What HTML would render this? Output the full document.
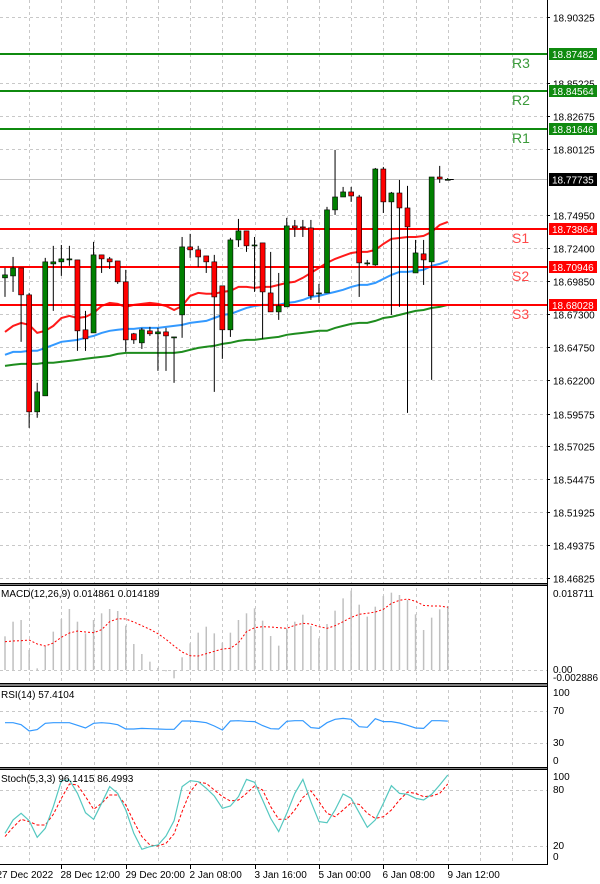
<!DOCTYPE html>
<html><head><meta charset="utf-8">
<style>
html,body{margin:0;padding:0;background:#fff;}
svg{display:block;font-family:"Liberation Sans",sans-serif;}
</style></head>
<body>
<svg id="chart" width="600" height="884" viewBox="0 0 600 884" xmlns="http://www.w3.org/2000/svg"></svg>
<script>
// ---- data ----
const opens=[18.7010,18.7025,18.7087,18.6878,18.5971,18.6095,18.7118,18.7134,18.7149,18.7149,18.6607,18.6583,18.7188,18.7157,18.7141,18.6979,18.6576,18.6506,18.6599,18.6576,18.6591,18.6552,18.6723,18.7250,18.7227,18.7180,18.7134,18.6948,18.6607,18.7304,18.7374,18.7265,18.7281,18.6893,18.6746,18.6785,18.7413,18.7405,18.7397,18.6886,18.6893,18.7537,18.7637,18.7676,18.7637,18.7126,18.7110,18.7854,18.7599,18.7668,18.7552,18.7048,18.7196,18.7134,18.7792,18.7774];
const highs=[18.7087,18.7172,18.7087,18.6893,18.6196,18.7165,18.7258,18.7265,18.7258,18.7149,18.6754,18.7289,18.7188,18.7172,18.7141,18.7072,18.6583,18.6622,18.6630,18.6622,18.6622,18.6552,18.7327,18.7351,18.7258,18.7180,18.7188,18.6948,18.7320,18.7467,18.7374,18.7327,18.7281,18.7211,18.7048,18.7475,18.7459,18.7459,18.7459,18.6963,18.7560,18.8002,18.7715,18.7715,18.7653,18.7149,18.7862,18.7870,18.7676,18.7769,18.7723,18.7304,18.7304,18.7792,18.7878,18.7784];
const lows=[18.6862,18.6901,18.6514,18.5847,18.5925,18.6095,18.6754,18.7025,18.7103,18.6444,18.6444,18.6583,18.7048,18.7079,18.6963,18.6436,18.6498,18.6459,18.6560,18.6289,18.6289,18.6196,18.6545,18.7165,18.7095,18.7048,18.6126,18.6382,18.6552,18.7250,18.7211,18.6901,18.6537,18.6746,18.6684,18.6785,18.7327,18.7327,18.6839,18.6816,18.6893,18.7498,18.7637,18.7599,18.6862,18.7103,18.7103,18.7513,18.6723,18.6785,18.5963,18.7048,18.6955,18.6219,18.7746,18.7769];
const closes=[18.7033,18.7087,18.6878,18.5971,18.6126,18.7134,18.7134,18.7157,18.7157,18.6599,18.6537,18.7188,18.7157,18.7134,18.6979,18.6529,18.6529,18.6607,18.6576,18.6591,18.6560,18.6552,18.7250,18.7227,18.7172,18.7134,18.6862,18.6607,18.7304,18.7374,18.7258,18.7265,18.6901,18.6746,18.6793,18.7413,18.7397,18.7397,18.6870,18.6893,18.7537,18.7637,18.7676,18.7645,18.7126,18.7126,18.7854,18.7599,18.7668,18.7552,18.7405,18.7203,18.7149,18.7792,18.7777,18.7774];
const maFast=[18.6591,18.6637,18.6661,18.6645,18.6583,18.6599,18.6637,18.6699,18.6715,18.6699,18.6707,18.6738,18.6792,18.6816,18.6808,18.6785,18.6800,18.6808,18.6816,18.6808,18.6792,18.6761,18.6792,18.6870,18.6893,18.6886,18.6886,18.6901,18.6909,18.6940,18.6940,18.6932,18.6940,18.6940,18.6955,18.6971,18.6979,18.7010,18.7048,18.7087,18.7126,18.7157,18.7180,18.7203,18.7211,18.7211,18.7227,18.7273,18.7312,18.7319,18.7327,18.7327,18.7335,18.7366,18.7420,18.7444];
const maMid=[18.6413,18.6436,18.6436,18.6444,18.6444,18.6467,18.6490,18.6514,18.6521,18.6529,18.6545,18.6560,18.6583,18.6599,18.6607,18.6614,18.6614,18.6622,18.6622,18.6622,18.6630,18.6637,18.6645,18.6661,18.6668,18.6676,18.6699,18.6723,18.6730,18.6754,18.6777,18.6792,18.6800,18.6800,18.6800,18.6816,18.6823,18.6839,18.6862,18.6870,18.6886,18.6901,18.6917,18.6940,18.6955,18.6955,18.6971,18.7002,18.7033,18.7056,18.7056,18.7064,18.7072,18.7103,18.7118,18.7141];
const maSlow=[18.6327,18.6336,18.6343,18.6343,18.6343,18.6351,18.6351,18.6359,18.6366,18.6374,18.6382,18.6390,18.6397,18.6405,18.6420,18.6428,18.6428,18.6428,18.6428,18.6428,18.6428,18.6428,18.6436,18.6452,18.6467,18.6475,18.6483,18.6498,18.6506,18.6521,18.6529,18.6529,18.6537,18.6545,18.6552,18.6568,18.6576,18.6583,18.6591,18.6599,18.6599,18.6622,18.6637,18.6653,18.6661,18.6661,18.6676,18.6699,18.6707,18.6723,18.6738,18.6754,18.6761,18.6777,18.6785,18.6800];
const levelNames=["R3","R2","R1","S1","S2","S3"];
const levelValues=[18.87482,18.84564,18.81646,18.73864,18.70946,18.68028];
const currentPrice=18.77735;
const priceTicks=[18.90325,18.85225,18.82675,18.80125,18.74950,18.72400,18.69850,18.67300,18.64750,18.62200,18.59575,18.57025,18.54475,18.51925,18.49375,18.46825];
const macdHist=[7.94,11.39,11.79,4.71,0.39,5.50,9.04,12.02,14.38,11.39,8.64,11.79,13.36,14.38,13.91,10.45,6.13,3.77,1.96,0.5,-0.3,-1.96,2.99,6.29,8.80,10.21,8.64,6.44,8.80,11.79,13.36,14.54,11.63,8.01,5.74,9.82,11.39,13.04,10.37,7.46,10.84,13.99,16.89,18.70,15.40,12.57,14.93,17.44,18.23,17.68,16.50,13.12,9.43,12.34,14.30,15.09];
const macdSignal=[6.68,6.84,6.91,7.07,6.13,5.66,6.36,7.70,8.72,9.19,8.96,8.80,9.51,11.39,12.10,12.02,11.31,10.45,9.59,8.56,7.23,5.66,4.24,3.38,3.30,3.85,4.40,4.95,5.11,6.44,9.04,9.98,10.21,10.14,9.98,9.82,10.53,11.00,10.84,10.21,9.82,10.45,11.39,12.41,13.12,13.36,13.67,14.30,15.71,16.42,16.74,16.19,15.24,15.09,15.09,14.77];
const rsiValues=[55.4,55.4,52.9,45,46.7,54.6,55.4,55.4,55.4,52.1,48.8,54.6,55.4,54.6,52.9,47.5,47.5,48.3,47.9,47.5,47.1,47.1,57.5,57.5,56.7,55.4,51.3,46.3,57.5,57.9,57.1,56.7,51.7,47.9,47.5,57.1,57.9,57.9,49.2,48.3,55.4,59.6,60.8,59.6,50.4,49.6,60.4,56.7,56.7,55,52.1,48.8,48.3,57.9,57.9,57.4];
const stochK=[33.6,47.9,55,47.1,29.3,38.9,62.1,90,90.7,76.4,55.7,48.6,65.7,83.6,76.4,58.6,33.6,16.4,19.3,21.1,30.7,47.1,83.6,90,88.9,81.8,73.6,60.4,62.9,72.9,91.4,88.2,69.3,49.6,35.4,55,76.4,91.4,67.5,46.1,45,58.6,75.7,71.1,55.7,40,47.9,65.7,84.6,76.4,75.4,71.1,69.3,75.4,85.4,96.1];
const stochD=[30,40,48.6,46.1,42.5,42.5,53.9,71.1,86.4,85.4,72.9,59.3,65.7,74.6,74.6,63.9,46.1,30,21.1,20,22.9,32.9,56.8,78.2,88.6,87.1,80,72.9,68.2,69.3,76.4,84.3,80,62.1,48.6,48.6,58.6,72.1,79.3,67.5,55,51.4,58.6,66.4,64.6,55,49.6,51.4,58.6,69.3,77.9,76.4,72.9,73.6,76.4,86.5];
const timeLabels=["27 Dec 2022","28 Dec 12:00","29 Dec 20:00","2 Jan 08:00","3 Jan 16:00","5 Jan 00:00","6 Jan 08:00","9 Jan 12:00"];
const timeLabelIdx=[-1,7,15,23,31,39,47,55];

// ---- scales ----
const AX=547;
const X=i=>5+8.05*i;
const YP=v=>17+(18.90325-v)*1289.7;
const YM=v=>670-v*4.242; // macd in 1e-3 units
const YR=v=>767-v*0.8;
const YS=v=>790+(80-v)*0.933;

const svg=document.getElementById('chart');
const NS='http://www.w3.org/2000/svg';
function mk(tag,attrs,parent){const e=document.createElementNS(NS,tag);for(const k in attrs)e.setAttribute(k,attrs[k]);(parent||svg).appendChild(e);return e;}
function txt(s,x,y,attrs,parent){const t=mk('text',Object.assign({x:x,y:y,'font-size':10,fill:'#000'},attrs),parent);t.textContent=s;return t;}

// vertical grid
for(let k=0;k<16;k++){const i=3+4*k;const x=Math.round(X(i))+0.5;if(x>AX)break;
 const g=mk('line',{x1:x,y1:0,x2:x,y2:864,stroke:'#c8c8c8','stroke-dasharray':'3,3'});
 
 }
// horizontal price grid + ticks
priceTicks.forEach(v=>{const y=Math.round(YP(v))+0.5;
 const g=mk('line',{x1:0,y1:y,x2:AX,y2:y,stroke:'#c8c8c8','stroke-dasharray':'3,3'});
 
 
 mk('line',{x1:AX,y1:y,x2:AX+3,y2:y,stroke:'#000'});
 const t=txt(v.toFixed(5),553,y+4);
 
 });
// current price line
const cy=Math.round(YP(currentPrice))+0.5;
const cl=mk('line',{x1:0,y1:cy,x2:AX,y2:cy,stroke:'#c0c0c0'});



// MAs
function poly(arr,yf,attrs,name){const pts=arr.map((v,i)=>X(i).toFixed(1)+','+yf(v).toFixed(1)).join(' ');
 const p=mk('polyline',Object.assign({points:pts,fill:'none'},attrs));
 
 return p;}
poly(maSlow,YP,{stroke:'#1e8c1e','stroke-width':2},'ma-slow-line');
poly(maMid,YP,{stroke:'#3399ff','stroke-width':2},'ma-mid-line');
poly(maFast,YP,{stroke:'#ff1a1a','stroke-width':2},'ma-fast-line');

// levels
levelValues.forEach((v,k)=>{const y=Math.round(YP(v));const isR=k<3;const col=isR?'#0f8a0f':'#ff0000';
 const l=mk('line',{x1:0,y1:y,x2:AX,y2:y,stroke:col,'stroke-width':2});
 
 
 const t=txt(levelNames[k],512,y+14,{'font-size':14,fill:isR?'#3a9a3a':'#ff4a4a'});
 
 
 mk('rect',{x:549,y:y-6,width:48,height:12,fill:col});
 const b=txt(v.toFixed(5),552,y+4,{fill:'#fff'});
 
 });

// candles
opens.forEach((o,i)=>{const x=X(i);const c=closes[i];const up=c>=o;
 const g=mk('g',{});
 
 
 mk('line',{x1:x,y1:YP(highs[i]),x2:x,y2:YP(lows[i]),stroke:'#000','stroke-width':1},g);
 const top=YP(Math.max(o,c)),bot=YP(Math.min(o,c));
 mk('rect',{x:x-2.5,y:top,width:5,height:Math.max(1,bot-top),fill:up?'#008000':'#ff0000',stroke:'#000','stroke-width':0.6},g);});
mk('line',{x1:X(55)+2,y1:cy,x2:X(55)+6,y2:cy,stroke:'#000'});

// current price box
mk('rect',{x:549,y:cy-6.5,width:48,height:13,fill:'#000'});
const cpt=txt(currentPrice.toFixed(5),552,cy+4,{fill:'#fff'});



// MACD panel
const zy=YM(0);
mk('line',{x1:0,y1:zy+0.5,x2:AX,y2:zy+0.5,stroke:'#c8c8c8','stroke-dasharray':'3,3'});
macdHist.forEach((v,i)=>{const b=mk('line',{x1:X(i),y1:zy,x2:X(i),y2:YM(v),stroke:'#c0c0c0','stroke-width':1.5});
 
 });
poly(macdSignal,YM,{stroke:'#ff0000','stroke-width':1,'stroke-dasharray':'2,2'},'macd-signal-line');
txt('MACD(12,26,9) 0.014861 0.014189',1,597,{});
txt('0.018711',553,597);txt('0.00',553,673);txt('-0.002886',553,681);

// RSI panel
[70,30].forEach(v=>{const y=Math.round(YR(v))+0.5;mk('line',{x1:0,y1:y,x2:AX,y2:y,stroke:'#c8c8c8','stroke-dasharray':'3,3'});});
poly(rsiValues,YR,{stroke:'#3399ff','stroke-width':1.2},'rsi-line');
txt('RSI(14) 57.4104',1,698,{});
txt('100',553,696);txt('70',553,714);txt('30',553,746);txt('0',553,764);

// Stoch panel
[80,20].forEach(v=>{const y=Math.round(YS(v))+0.5;mk('line',{x1:0,y1:y,x2:AX,y2:y,stroke:'#c8c8c8','stroke-dasharray':'3,3'});});
poly(stochD,YS,{stroke:'#ff0000','stroke-width':1,'stroke-dasharray':'3,2'},'stoch-signal-line');
poly(stochK,YS,{stroke:'#55c8c0','stroke-width':1.2},'stoch-main-line');
txt('Stoch(5,3,3) 96.1415 86.4993',1,782,{});
txt('100',553,780);txt('80',553,793);txt('20',553,849);txt('0',553,860);

// frames / separators
mk('line',{x1:AX+0.5,y1:0,x2:AX+0.5,y2:865,stroke:'#000'});
[[583,586],[683,687],[767,770]].forEach(([a,b])=>{mk('rect',{x:0,y:a,width:AX,height:b-a,fill:'#808080'});mk('line',{x1:0,y1:a+0.5,x2:AX,y2:a+0.5,stroke:'#000'});mk('line',{x1:0,y1:b-0.5,x2:AX,y2:b-0.5,stroke:'#000'});});
mk('line',{x1:0,y1:864.5,x2:AX+1,y2:864.5,stroke:'#000'});

// time axis
timeLabels.forEach((s,k)=>{const x=Math.round(X(timeLabelIdx[k]))+0.5;
 mk('line',{x1:x,y1:864,x2:x,y2:869,stroke:'#000'});
 const t=txt(s,x-1,878);
 
 });
</script>
</body></html>
